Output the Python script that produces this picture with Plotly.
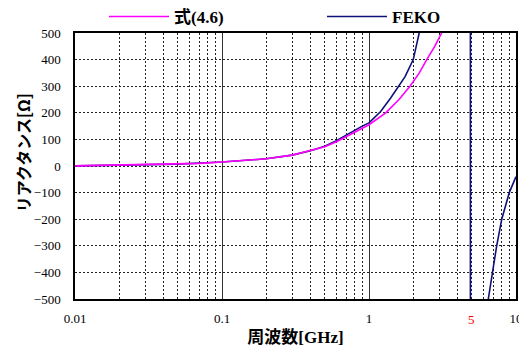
import plotly.graph_objects as go

# Data
freq_eq = [0.01, 0.02, 0.03, 0.05, 0.07, 0.1, 0.15, 0.2, 0.3, 0.4, 0.5, 0.6, 0.7,
           0.8, 0.9, 1.0, 1.3, 1.6, 1.9, 2.2, 2.47, 2.8, 3.12, 3.4]
react_eq = [0.5, 3, 4.5, 7, 10, 15, 21, 27, 41, 57, 72, 91, 110,
            126, 141, 155, 200, 250, 300, 350, 400, 450, 500, 550]

freq_feko = [0.01, 0.05, 0.1, 0.2, 0.3, 0.4, 0.5, 0.6, 0.7, 0.8, 0.9, 1.0, 1.2,
             1.4, 1.58, 1.76, 2.0, 2.22, 2.5, 3.0, 4.0, 4.89, 4.90, 5.5, 6.0,
             6.48, 6.9, 7.39, 8.0, 9.0, 10.0]
react_feko = [0.5, 7, 15, 27, 41, 57, 74, 95, 116, 135, 150, 162, 205,
              255, 300, 336, 400, 500, 640, 900, 1800, 30000, -30000, -3000, -1200,
              -500, -400, -300, -200, -100, -40]

x_ticks = [0.01, 0.1, 1, 10]
x_ticklabels = ["0.01", "0.1", "1", "10"]
x_minor = [m * d for d in (0.01, 0.1, 1) for m in range(2, 10)]
y_ticks = list(range(-500, 501, 100))

serif = "'Liberation Serif', 'Times New Roman', 'Noto Sans CJK JP', serif"

# page is shown with an 8px body margin, so the figure is 8px smaller
W, H = 519, 339

fig = go.Figure()
fig.add_trace(go.Scatter(x=freq_feko, y=react_feko, mode="lines", name="FEKO",
                         line=dict(color="#10107a", width=1.6), legend="legend2"))
fig.add_trace(go.Scatter(x=freq_eq, y=react_eq, mode="lines", name="式(4.6)",
                         line=dict(color="#ff00ff", width=1.6), legend="legend"))

leg_common = dict(orientation="h", xref="container", yref="container",
                  xanchor="left", yanchor="middle",
                  font=dict(family=serif, size=17, color="black", weight="bold"),
                  itemwidth=60, bgcolor="rgba(0,0,0,0)")

fig.update_layout(
    width=W, height=H,
    margin=dict(l=67, r=11, t=24.5, b=47.5, autoexpand=False),
    paper_bgcolor="white", plot_bgcolor="white",
    font=dict(family=serif, size=13, color="black"),
    showlegend=True,
    legend=dict(x=96 / W, y=1 - 9 / H, **leg_common),
    legend2=dict(x=314 / W, y=1 - 9 / H, **leg_common),
)

fig.update_xaxes(
    type="log", range=[-2, 1],
    tickvals=x_ticks, ticktext=x_ticklabels, ticks="",
    showgrid=True, gridcolor="#333333", gridwidth=1,
    minor=dict(tickvals=x_minor, showgrid=True, gridcolor="#222222",
               griddash="2px,2px", gridwidth=1, ticks=""),
    showline=True, linecolor="black", linewidth=1.5, mirror=True,
    zeroline=False, tickfont=dict(size=13, family=serif),
    ticklabelstandoff=7,
    title=dict(text="周波数[GHz]", font=dict(family=serif, size=17, weight="bold"),
               standoff=11),
)
fig.update_yaxes(
    range=[-500, 500], tickvals=y_ticks, ticks="",
    showgrid=True, gridcolor="#222222", griddash="2px,2px", gridwidth=1,
    showline=True, linecolor="black", linewidth=1.5, mirror=True,
    zeroline=False, tickfont=dict(size=13, family=serif),
    ticklabelstandoff=10,
)

fig.add_annotation(x=0.699, y=0, xref="x", yref="paper", yanchor="top", yshift=-11,
                   text="5", showarrow=False, font=dict(color="red", size=13, family=serif))
fig.add_annotation(x=-0.119, y=0.55, xref="paper", yref="paper", text="リアクタンス[Ω]",
                   xanchor="center", yanchor="middle",
                   textangle=-90, showarrow=False,
                   font=dict(family="Noto Sans CJK JP", size=16, weight="bold", color="black"))

fig.write_html("out.html")
